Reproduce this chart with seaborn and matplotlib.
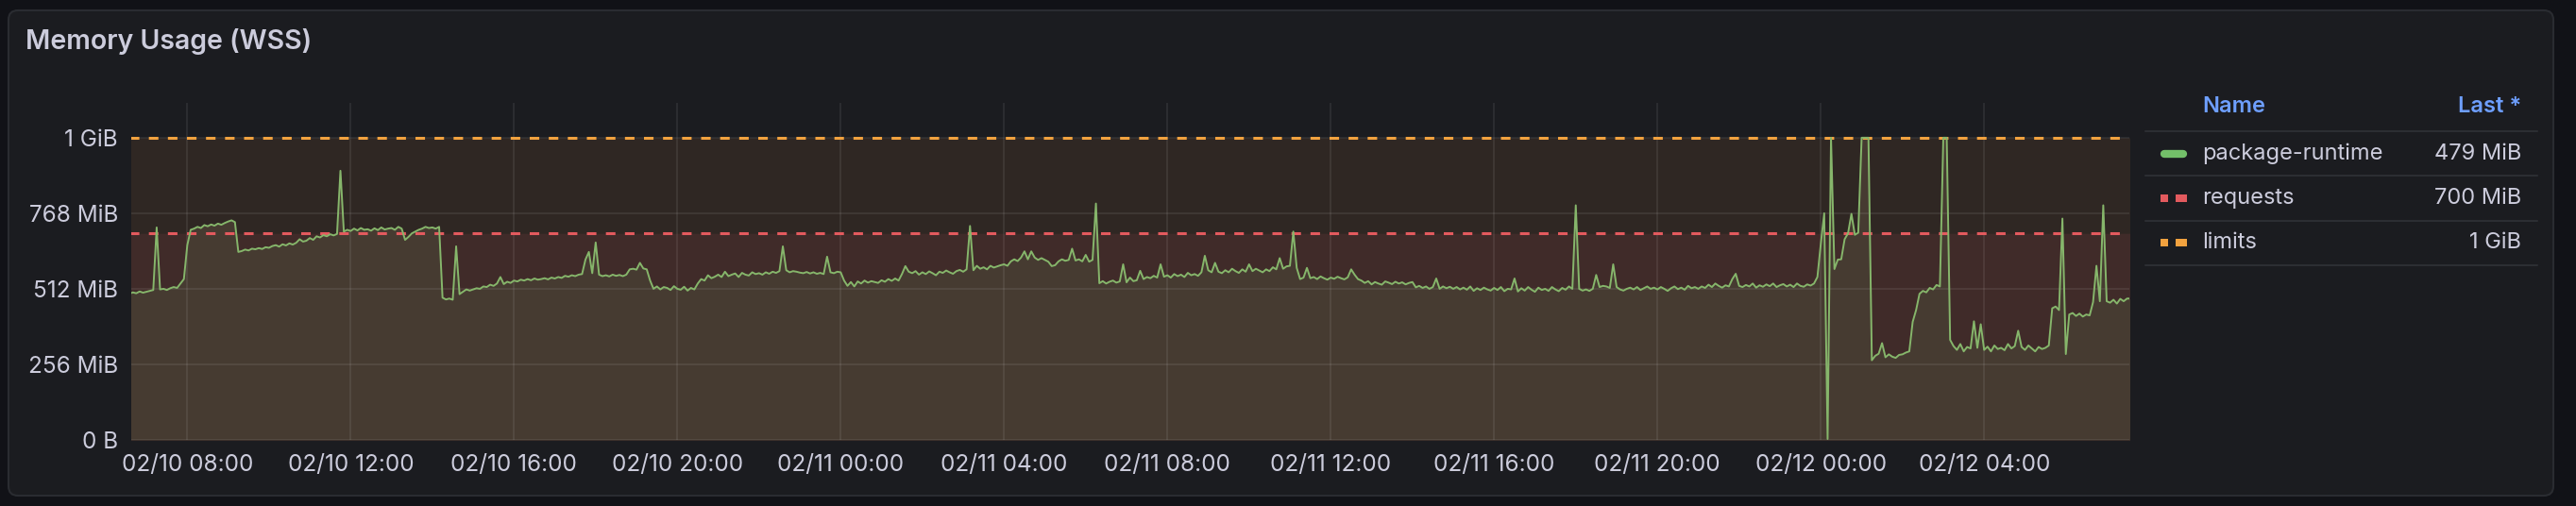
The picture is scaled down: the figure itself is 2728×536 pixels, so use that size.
import pandas as pd
import matplotlib
matplotlib.use("Agg")
import matplotlib.pyplot as plt
import matplotlib.dates as mdates
from matplotlib.patches import FancyBboxPatch, Rectangle
import seaborn as sns

# ==========================================
# data: working set (MiB), one sample every 5 minutes from 02/10 06:35
# ==========================================
start_time = "2025-02-10 06:35"

wss_feb10 = [
    495, 500, 497, 503, 499,                                        # 06:35
    502, 505, 508, 720, 510, 512, 508, 514, 518, 515, 530, 545,     # 07
    660, 712, 716, 722, 718, 728, 724, 730, 726, 733, 729, 735,     # 08
    740, 744, 738, 637, 640, 645, 642, 648, 646, 650, 647, 653,     # 09
    651, 657, 660, 655, 663, 659, 666, 662, 668, 680, 672, 675,     # 10
    684, 678, 690, 686, 694, 690, 697, 693, 698, 912, 706, 712,     # 11
    708, 716, 710, 718, 712, 714, 709, 717, 711, 720, 713, 716,     # 12
    718, 712, 722, 716, 678, 688, 700, 706, 712, 716, 722, 718,     # 13
    720, 716, 722, 482, 476, 479, 475, 656, 494, 502, 510, 506,     # 14
    510, 514, 512, 520, 518, 526, 522, 530, 552, 528, 536, 532,     # 15
    540, 537, 543, 540, 545, 541, 547, 543, 545, 548, 544, 550,     # 16
    547, 552, 549, 556, 553, 558, 555, 560, 562, 611, 637, 565,     # 17
    669, 560, 555, 558, 554, 560, 556, 559, 555, 560, 578, 580,     # 18
    577, 600, 581, 578, 540, 512, 520, 510, 518, 515, 508, 521,     # 19
    512, 509, 519, 506, 515, 510, 530, 545, 540, 558, 548, 553,     # 20
    560, 552, 570, 555, 560, 564, 552, 566, 560, 557, 568, 562,     # 21
    565, 560, 568, 563, 570, 566, 572, 656, 575, 568, 572, 570,     # 22
    567, 565, 569, 564, 568, 563, 566, 562, 621, 568, 565, 570,     # 23
]

wss_feb11 = [
    568, 540, 522, 535, 520, 537, 530, 540, 533, 538, 535, 532,     # 00
    541, 536, 545, 539, 547, 540, 562, 589, 570, 565, 572, 560,     # 01
    568, 562, 571, 565, 558, 570, 566, 574, 568, 563, 572, 576,     # 02
    570, 578, 725, 575, 590, 580, 585, 578, 590, 584, 588, 592,     # 03
    595, 590, 605, 612, 606, 618, 639, 612, 639, 618, 610, 616,     # 04
    610, 604, 589, 592, 605, 612, 607, 610, 648, 608, 612, 605,     # 05
    627, 604, 610, 801, 531, 538, 530, 536, 540, 533, 537, 595,     # 06
    534, 550, 538, 541, 573, 545, 552, 548, 556, 550, 595, 553,     # 07
    558, 550, 562, 555, 560, 552, 566, 558, 562, 556, 568, 624,     # 08
    575, 568, 600, 570, 565, 575, 568, 580, 572, 566, 578, 570,     # 09
    595, 572, 580, 574, 568, 578, 572, 585, 578, 616, 580, 588,     # 10
    590, 706, 583, 545, 550, 583, 548, 552, 545, 554, 548, 543,     # 11
    550, 546, 553, 548, 544, 551, 578, 560, 545, 540, 532, 538,     # 12
    527, 535, 530, 526, 537, 533, 528, 536, 530, 534, 527, 532,     # 13
    535, 517, 522, 515, 520, 512, 518, 547, 512, 520, 514, 519,     # 14
    512, 518, 510, 516, 509, 520, 505, 514, 508, 516, 510, 506,     # 15
    515, 508, 518, 504, 512, 510, 547, 503, 514, 506, 518, 509,     # 16
    502, 516, 508, 512, 505, 518, 510, 504, 515, 509, 520, 512,     # 17
    795, 512, 506, 510, 505, 512, 559, 518, 522, 520, 515, 595,     # 18
    518, 510, 506, 512, 516, 510, 518, 508, 514, 520, 512, 516,     # 19
    510, 518, 512, 505, 514, 520, 511, 516, 509, 522, 514, 518,     # 20
    512, 520, 515, 526, 518, 530, 522, 516, 524, 520, 545, 563,     # 21
    522, 518, 525, 520, 530, 516, 524, 519, 527, 521, 530, 518,     # 22
    524, 528, 520, 526, 518, 530, 522, 519, 527, 523, 530, 552,     # 23
]

wss_feb12 = [
    664, 768, 3, 1024, 579, 611, 612, 680, 700, 766, 695, 702,      # 00
    1024, 1024, 1024, 270, 285, 292, 328, 280, 290, 282, 278, 288,  # 01
    290, 296, 300, 400, 440, 495, 505, 500, 515, 510, 525, 520,     # 02
    1024, 1024, 339, 318, 305, 325, 300, 315, 310, 402, 312, 392,   # 03
    305, 316, 300, 320, 308, 312, 304, 325, 310, 318, 370, 315,     # 04
    305, 320, 310, 300, 315, 308, 312, 320, 446, 452, 440, 750,     # 05
    291, 425, 430, 420, 428, 418, 425, 422, 467, 590, 470, 795,     # 06
    470, 465, 475, 462, 478, 470, 479, 479,                         # 07
]

requests_mib = 700
limits_mib = 1024

y_ticks = [0, 256, 512, 768, 1024]
y_tick_labels = ["0 B", "256 MiB", "512 MiB", "768 MiB", "1 GiB"]

legend_names = ["package-runtime", "requests", "limits"]
legend_last = ["479 MiB", "700 MiB", "1 GiB"]

# ==========================================
# colours
# ==========================================
BG = "#111217"
PANEL = "#1b1c20"
BORDER = "#2a2c31"
TEXT = "#ccccdc"
BLUE = "#6e9fff"
GREEN = "#73bf69"
LINE_GREEN = "#86b66b"
RED = "#e35a5e"
ORANGE = "#f2a23f"
FILL_TOP = "#2f2723"
FILL_REQ = "#402b29"
FILL_SER = "#463b31"
TICK = "#34363b"

wss = wss_feb10 + wss_feb11 + wss_feb12
df = pd.DataFrame({
    "time": pd.date_range(start_time, periods=len(wss), freq="5min"),
    "package-runtime": wss,
})
df["requests"] = requests_mib
df["limits"] = limits_mib

sns.set_theme(style="dark")
plt.rcParams["font.family"] = ["Inter", "DejaVu Sans"]

W, H = 2728, 536
fig = plt.figure(figsize=(W / 100, H / 100), dpi=100)
fig.patch.set_facecolor(BG)

# background layer in pixel coordinates (panel, title, legend table)
bg = fig.add_axes([0, 0, 1, 1])
bg.set_xlim(0, W)
bg.set_ylim(H, 0)
bg.axis("off")
bg.add_patch(FancyBboxPatch((9, 11), 2695, 514, boxstyle="round,pad=0,rounding_size=10",
                            fc=PANEL, ec=BORDER, lw=1.5))
bg.text(27, 44, "Memory Usage (WSS)", color=TEXT, fontsize=20.5, fontweight="semibold",
        ha="left", va="center")

# ==========================================
# main time series
# ==========================================
ax = fig.add_axes([139 / W, (H - 466) / H, (2255 - 139) / W, (466 - 109) / H])
ax.set_facecolor("none")

ax.fill_between(df["time"], 0, df["limits"], color=FILL_TOP, lw=0)
ax.fill_between(df["time"], 0, df["requests"], color=FILL_REQ, lw=0)
ax.fill_between(df["time"], 0, df["package-runtime"], color=FILL_SER, lw=0)

sns.lineplot(data=df, x="time", y="limits", ax=ax, color=ORANGE, lw=2.2, zorder=3)
sns.lineplot(data=df, x="time", y="requests", ax=ax, color=RED, lw=2.2, zorder=3)
for ln in ax.lines:
    ln.set_dashes((3.3, 3.3))
sns.lineplot(data=df, x="time", y="package-runtime", ax=ax, color=LINE_GREEN, lw=1.4, zorder=4)

ax.set_xlim(pd.Timestamp("2025-02-10 06:37:40"), pd.Timestamp("2025-02-12 07:33:20"))
ax.set_ylim(0, 1142)
ax.set_yticks(y_ticks)
ax.set_yticklabels(y_tick_labels)
ax.xaxis.set_major_locator(mdates.HourLocator(byhour=[0, 4, 8, 12, 16, 20]))
ax.xaxis.set_major_formatter(mdates.DateFormatter("%m/%d %H:%M"))
ax.set_xlabel("")
ax.set_ylabel("")
ax.set_axisbelow("line")
ax.grid(True, color="white", alpha=0.09, lw=1.2)
ax.tick_params(axis="x", length=6, width=1.2, color=TICK, pad=5, labelsize=17.5, labelcolor=TEXT)
ax.tick_params(axis="y", length=0, pad=10, labelsize=17.5, labelcolor=TEXT)
for sp in ax.spines.values():
    sp.set_visible(False)

# ==========================================
# legend table
# ==========================================
bg.text(2332, 113, "Name", color=BLUE, fontsize=17, fontweight="semibold", ha="left", va="center")
bg.text(2670, 113, "Last *", color=BLUE, fontsize=17, fontweight="semibold", ha="right", va="center")
for y in [139, 186, 234, 281]:
    bg.plot([2272, 2687], [y, y], color="#2c2e33", lw=1.5)

row_y = [163, 210, 257]
bg.plot([2292, 2312], [row_y[0], row_y[0]], color=GREEN, lw=6, solid_capstyle="round")
for yy, col in [(row_y[1], RED), (row_y[2], ORANGE)]:
    bg.add_patch(Rectangle((2288, yy - 4), 8, 8, color=col, lw=0))
    bg.add_patch(Rectangle((2304, yy - 4), 12, 8, color=col, lw=0))
for yy, name, last in zip(row_y, legend_names, legend_last):
    bg.text(2332, yy, name, color=TEXT, fontsize=17, ha="left", va="center")
    bg.text(2670, yy, last, color=TEXT, fontsize=17, ha="right", va="center")

fig.savefig("out.png", dpi=100, facecolor=BG)
